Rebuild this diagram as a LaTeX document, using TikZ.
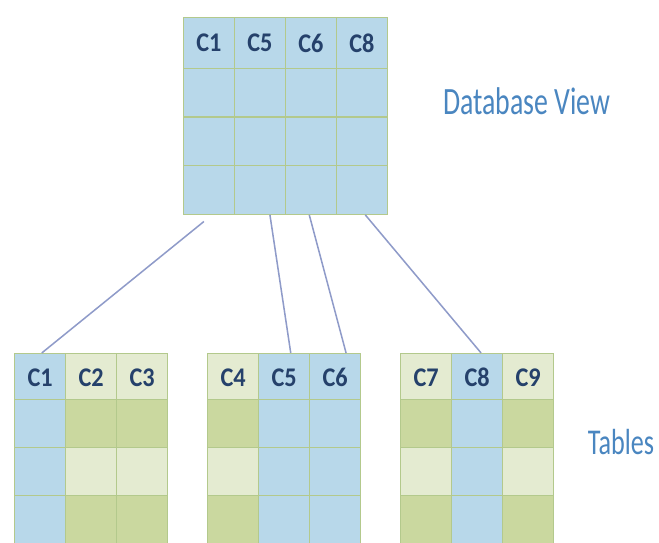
\documentclass[tikz,border=0pt]{standalone}
\usepackage{fontspec}
\setmainfont{Carlito}
\newfontfamily\headfont[FakeStretch=0.9]{Carlito}
\newfontfamily\capfont[FakeStretch=0.72]{Carlito}
\usetikzlibrary{positioning}

\definecolor{cellblue}{HTML}{B8D8EA}
\definecolor{cellgreen}{HTML}{CAD89F}
\definecolor{cellpale}{HTML}{E4EBD1}
\definecolor{gridline}{HTML}{B3C98C}
\definecolor{headtext}{HTML}{25416B}
\definecolor{labeltext}{HTML}{4A86C0}
\definecolor{linkline}{HTML}{8F9BC9}

\begin{document}
\begin{tikzpicture}[x=0.03cm,y=-0.03cm]
\tikzstyle{every node}+=[inner sep=0pt]
\tikzstyle{cell}=[draw=gridline, line width=1pt, minimum width=1.53cm, minimum height=1.45cm, anchor=north west]
\tikzstyle{head}=[font=\headfont\bfseries\fontsize{23}{25}\selectfont, text=headtext]
\tikzstyle{link}=[draw=linkline, line width=1.3pt]
\tikzstyle{caption}=[text=labeltext]
% column fills, by row (0 = header)
\tikzset{b0/.style={fill=cellblue}, b1/.style={fill=cellblue}, b2/.style={fill=cellblue}, b3/.style={fill=cellblue},
  g0/.style={fill=cellpale}, g1/.style={fill=cellgreen}, g2/.style={fill=cellpale}, g3/.style={fill=cellgreen}}
\useasboundingbox (0,0) rectangle (659,543);

% database view
\foreach \c/\name in {1/C1,2/C5,3/C6,4/C8} {
  \node [cell, fill=cellblue, minimum width=1.52cm, minimum height=1.53cm, head] (v\c h) at ({183+51*(\c-1)},17) {\name};
  \foreach \r in {1,2,3}
    \node [cell, fill=cellblue, minimum width=1.52cm, minimum height=1.46cm] (v\c r\r) at ({183+51*(\c-1)},{68+48.5*(\r-1)}) {};
}
\node [caption, font=\capfont\fontsize{33}{35}\selectfont] (view) at (527,101) {Database View};

% tables
\foreach \t/\x/\cols in {a/14/{C1/b,C2/g,C3/g}, b/207/{C4/g,C5/b,C6/b}, c/400/{C7/g,C8/b,C9/g}} {
  \foreach \name/\kind [count=\c] in \cols {
    \node [cell, \kind0, head] (\t\c h) at ({\x+51*(\c-1)},353) {\name};
    \foreach \r in {1,2,3}
      \node [cell, \kind\r] (\t\c r\r) at ({\x+51*(\c-1)},{399+48*(\r-1)}) {};
  }
}
\node [caption, font=\capfont\fontsize{31}{33}\selectfont] (tables) at (621,442) {Tables};

% links
\draw [link] ([xshift=-0.15cm,yshift=-0.2cm]v1r3.south) -- ([xshift=0.05cm]a1h.north);
\draw [link] ([xshift=0.3cm]v2r3.south) -- ([xshift=0.2cm]b2h.north);
\draw [link] ([xshift=-0.05cm]v3r3.south) -- ([xshift=0.33cm]b3h.north);
\draw [link] ([xshift=0.1cm]v4r3.south) -- ([xshift=0.12cm]c2h.north);
\end{tikzpicture}
\end{document}
